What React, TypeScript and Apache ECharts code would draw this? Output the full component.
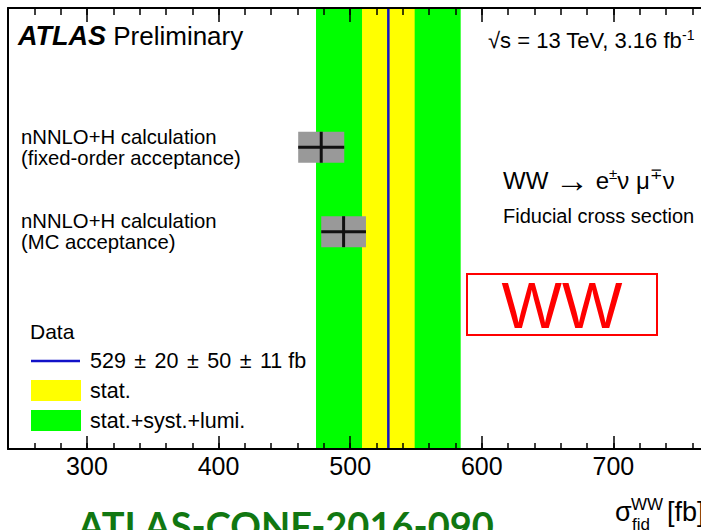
import React, { useEffect, useRef } from "react";
import * as echarts from "echarts";

// ---- data ----
const dataCentral = 529;
const dataStat = 20;
const dataSyst = 50;
const dataLumi = 11;

const theoryNames = ["nNNLO+H calculation", "nNNLO+H calculation"];
const theoryNotes = ["(fixed-order acceptance)", "(MC acceptance)"];
const theoryValues = [478, 495];
const theoryErrors = [17.5, 17];
const theoryRows = [1, 2];

const xTickValues = [300, 400, 500, 600, 700];
const xTickLabels = ["300", "400", "500", "600", "700"];

const legendHeader = "Data";
const pm = " {pm|±} ";
const legendLabels = [
  `${dataCentral}${pm}${dataStat}${pm}${dataSyst}${pm}${dataLumi} fb`,
  "stat.",
  "stat.+syst.+lumi.",
];

const FONT = '"Liberation Sans", Arial, Helvetica, sans-serif';
const BLUE = "#1212c8";

export default function App() {
  const ref = useRef<HTMLDivElement>(null);

  useEffect(() => {
    if (!ref.current) return;
    const chart = echarts.init(ref.current, undefined, { renderer: "svg" });

    const xMin = 240;
    const xMax = 800;
    const minorTicks: number[] = [];
    for (let v = xMin; v <= xMax; v += 20) minorTicks.push(v);

    const totalErr = Math.sqrt(dataStat ** 2 + dataSyst ** 2 + dataLumi ** 2);

    const bandRender = (color: string) => (params: any, api: any) => {
      const cs = params.coordSys;
      const x0 = api.coord([api.value(0), 0])[0];
      const x1 = api.coord([api.value(1), 0])[0];
      return {
        type: "rect",
        shape: { x: x0, y: cs.y, width: x1 - x0, height: cs.height },
        style: { fill: color },
      };
    };

    const baseX = {
      type: "value",
      min: xMin,
      max: xMax,
      gridIndex: 0,
      z: 10,
      splitLine: { show: false },
      axisLine: { show: false, onZero: false },
      axisLabel: { show: false },
    };

    const txt = (x: number, y: number, text: string, size: number, extra: any = {}) => ({
      type: "text",
      x,
      y,
      z: 20,
      style: {
        text,
        fill: "#000",
        fontFamily: FONT,
        fontSize: size,
        align: "left",
        verticalAlign: "middle",
        ...extra,
      },
    });

    const option: any = {
      animation: false,
      grid: {
        left: 8,
        top: 8,
        width: 737,
        height: 441,
        containLabel: false,
        outerBoundsMode: "none",
      },
      xAxis: [
        {
          ...baseX,
          position: "bottom",
          axisLine: { show: true, onZero: false, lineStyle: { color: "#000", width: 2 } },
          axisTick: {
            show: true,
            inside: true,
            length: 13,
            customValues: xTickValues,
            lineStyle: { color: "#000", width: 1.5 },
          },
          axisLabel: {
            show: true,
            customValues: xTickValues,
            formatter: (v: number) => xTickLabels[xTickValues.indexOf(v)] ?? "",
            color: "#000",
            fontFamily: FONT,
            fontSize: 25,
            margin: 4,
          },
        },
        {
          ...baseX,
          position: "bottom",
          axisTick: {
            show: true,
            inside: true,
            length: 6,
            customValues: minorTicks,
            lineStyle: { color: "#000", width: 1.5 },
          },
        },
        {
          ...baseX,
          position: "top",
          axisLine: { show: true, onZero: false, lineStyle: { color: "#000", width: 2 } },
          axisTick: {
            show: true,
            inside: true,
            length: 14,
            customValues: xTickValues,
            lineStyle: { color: "#000", width: 1.5 },
          },
        },
        {
          ...baseX,
          position: "top",
          axisTick: {
            show: true,
            inside: true,
            length: 7,
            customValues: minorTicks,
            lineStyle: { color: "#000", width: 1.5 },
          },
        },
      ],
      yAxis: {
        type: "value",
        min: -0.65,
        max: 4.575,
        inverse: true,
        z: 10,
        axisLine: { show: true, onZero: false, lineStyle: { color: "#000", width: 2 } },
        axisTick: { show: false },
        axisLabel: { show: false },
        splitLine: { show: false },
      },
      series: [
        {
          type: "custom",
          name: "stat.+syst.+lumi.",
          xAxisIndex: 0,
          encode: { x: [0, 1] },
          data: [[dataCentral - totalErr, dataCentral + totalErr]],
          renderItem: bandRender("#00ff00"),
          z: 1,
        },
        {
          type: "custom",
          name: "stat.",
          xAxisIndex: 0,
          encode: { x: [0, 1] },
          data: [[dataCentral - dataStat, dataCentral + dataStat]],
          renderItem: bandRender("#ffff00"),
          z: 2,
        },
        {
          type: "custom",
          name: "Data",
          xAxisIndex: 0,
          encode: { x: 0 },
          data: [[dataCentral]],
          z: 3,
          renderItem: (params: any, api: any) => {
            const cs = params.coordSys;
            const x = api.coord([api.value(0), 0])[0];
            return {
              type: "line",
              shape: { x1: x, y1: cs.y, x2: x, y2: cs.y + cs.height },
              style: { stroke: BLUE, lineWidth: 2.5 },
            };
          },
        },
        {
          type: "custom",
          name: "theory",
          xAxisIndex: 0,
          encode: { x: 0, y: 2 },
          data: theoryValues.map((v, i) => [v, theoryErrors[i], theoryRows[i]]),
          z: 4,
          renderItem: (params: any, api: any) => {
            const cs = params.coordSys;
            const idx = params.dataIndex;
            const v = api.value(0);
            const e = api.value(1);
            const row = api.value(2);
            const [xl, y] = api.coord([v - e, row]);
            const xr = api.coord([v + e, row])[0];
            const xc = api.coord([v, row])[0];
            const h = 31;
            const ts = {
              fill: "#000",
              fontFamily: FONT,
              fontSize: 20.3,
              align: "left",
              verticalAlign: "middle",
            };
            return {
              type: "group",
              children: [
                {
                  type: "rect",
                  shape: { x: xl, y: y - h / 2, width: xr - xl, height: h },
                  style: { fill: "#999999" },
                },
                {
                  type: "line",
                  shape: { x1: xl, y1: y, x2: xr, y2: y },
                  style: { stroke: "#111", lineWidth: 3 },
                },
                {
                  type: "line",
                  shape: { x1: xc, y1: y - h / 2, x2: xc, y2: y + h / 2 },
                  style: { stroke: "#111", lineWidth: 3 },
                },
                { type: "text", x: cs.x + 13, y: y - 10.5, style: { ...ts, text: theoryNames[idx] } },
                { type: "text", x: cs.x + 13, y: y + 10.5, style: { ...ts, text: theoryNotes[idx] } },
              ],
            };
          },
        },
      ],
      graphic: [
        txt(18, 36, "{a|ATLAS} Preliminary", 26, {
          rich: { a: { fontFamily: FONT, fontSize: 27, fontWeight: "bold", fontStyle: "italic" } },
        }),
        txt(488, 40, "√s = 13 TeV, 3.16 fb{sup|-1}", 22, {
          lineHeight: 25,
          rich: { sup: { fontFamily: FONT, fontSize: 14, lineHeight: 14, verticalAlign: "top" } },
        }),
        txt(503, 180, "WW {arr|→} e{sup|±}ν μ{sup|∓}ν", 24, {
          lineHeight: 28,
          rich: {
            sup: { fontFamily: FONT, fontSize: 15, lineHeight: 15, verticalAlign: "top" },
            arr: { fontFamily: FONT, fontSize: 34, lineHeight: 28 },
          },
        }),
        txt(503, 216, "Fiducial cross section", 20),
        {
          type: "rect",
          z: 20,
          shape: { x: 467, y: 274, width: 190, height: 61 },
          style: { fill: "none", stroke: "#ff0000", lineWidth: 2 },
        },
        txt(562, 306, "WW", 64, { fill: "#ff0000", align: "center" }),
        // legend
        txt(30, 331, legendHeader, 21),
        {
          type: "line",
          z: 20,
          shape: { x1: 31, y1: 361, x2: 80, y2: 361 },
          style: { stroke: BLUE, lineWidth: 2.5 },
        },
        txt(90, 361, legendLabels[0], 21.5, {
          rich: { pm: { fontFamily: FONT, fontSize: 21.5, padding: [0, 2.5] } },
        }),
        {
          type: "rect",
          z: 20,
          shape: { x: 31, y: 380, width: 50, height: 21 },
          style: { fill: "#ffff00" },
        },
        txt(90, 391, legendLabels[1], 21.5),
        {
          type: "rect",
          z: 20,
          shape: { x: 31, y: 410, width: 50, height: 21 },
          style: { fill: "#00ff00" },
        },
        txt(90, 421, legendLabels[2], 21.5),
        // axis title
        txt(615, 512, "σ", 27),
        txt(631, 504, "WW", 17),
        txt(632, 524, "fid", 17),
        txt(667, 512, "[fb]", 27),
        // footer
        txt(78, 525, "ATLAS-CONF-2016-090", 38, {
          fill: "#117711",
          fontFamily: "Lato, Carlito, Calibri, sans-serif",
          fontWeight: "bold",
        }),
      ],
    };

    chart.setOption(option);
    return () => chart.dispose();
  }, []);

  return (
    <div
      ref={ref}
      style={{ position: "fixed", left: 0, top: 0, width: 701, height: 530, background: "#fff" }}
    />
  );
}
